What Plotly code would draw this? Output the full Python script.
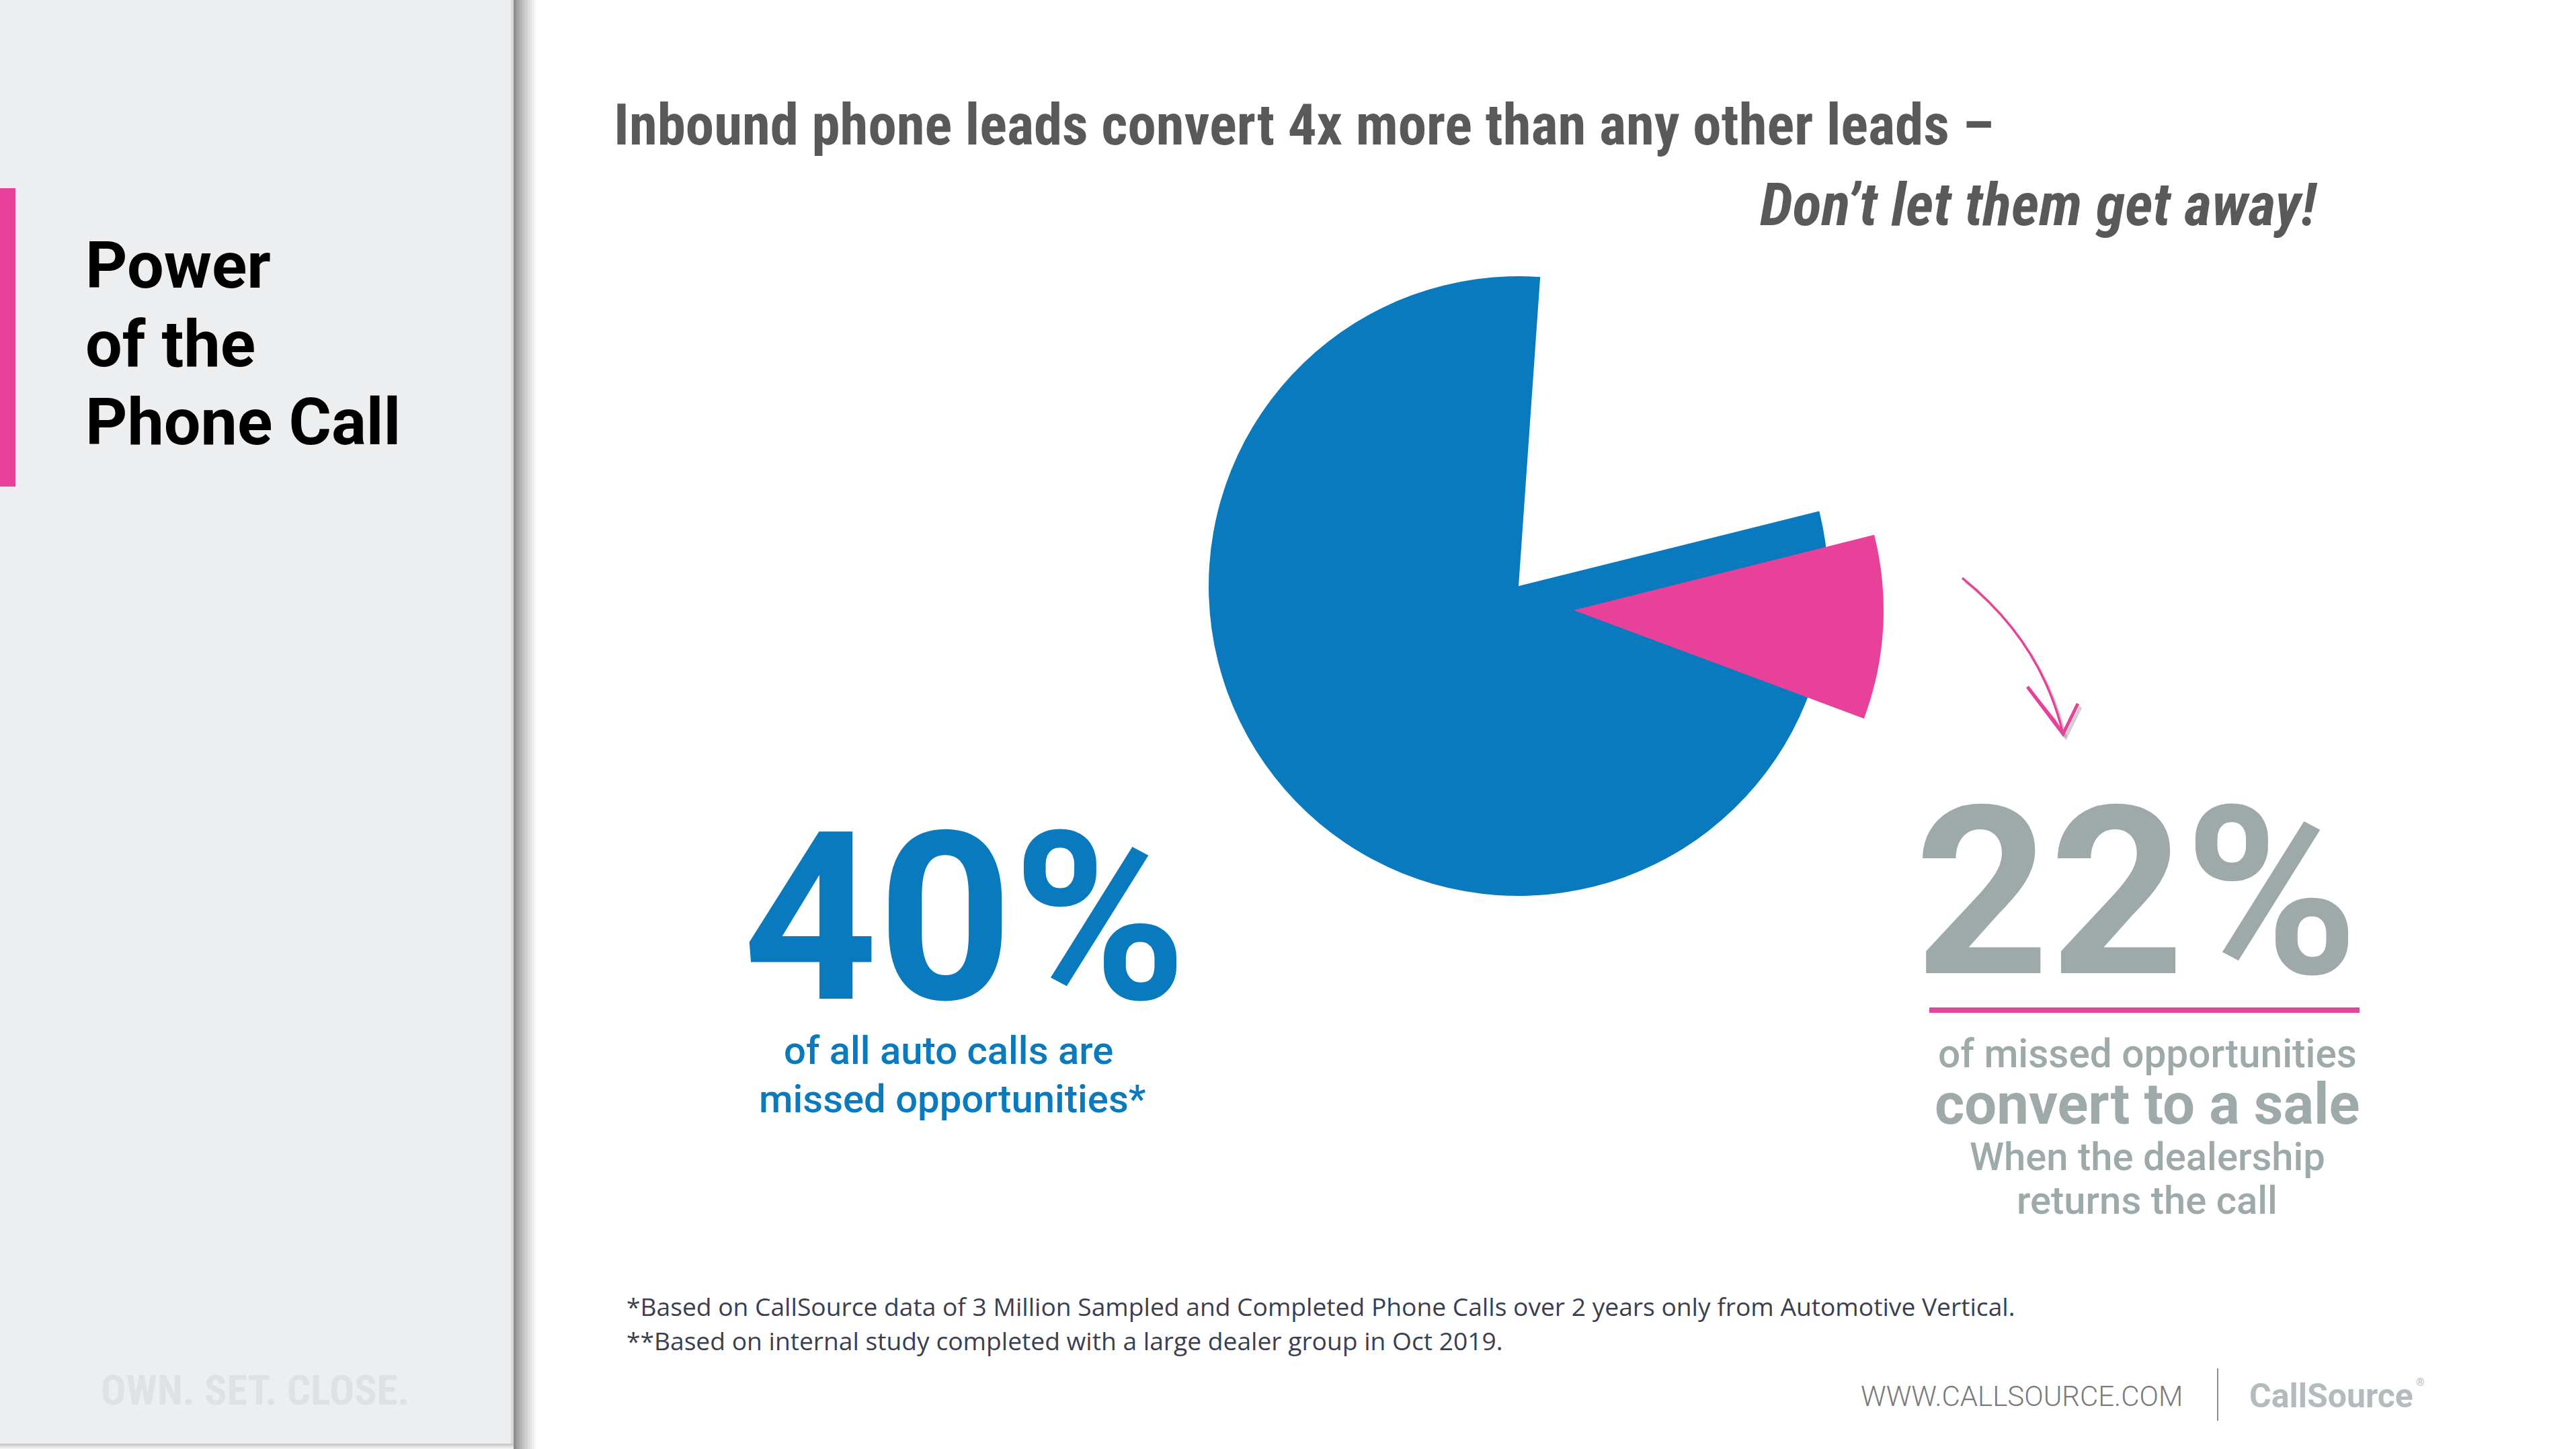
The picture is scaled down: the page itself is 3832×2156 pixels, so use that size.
import plotly.graph_objects as go

W, H = 3832, 2156

# ---- data -------------------------------------------------------------
# main pie: share of calls vs. the open wedge
pie_labels = ["Calls", "Open wedge"]
pie_values = [80, 20]
# highlighted wedge (missed opportunities that convert), pulled out of the pie
wedge_labels = ["Converted", "Rest"]
wedge_values = [9.6, 90.4]

headline = "Inbound phone leads convert 4x more than any other leads \u2013"
subhead = "Don\u2019t let them get away!"
side_title = ["Power", "of the", "Phone Call"]
stat_left = "40%"
stat_left_lines = ["of all auto calls are", "missed opportunities*"]
stat_right = "22%"
stat_right_lines = ["of missed opportunities", "convert to a sale",
                    "When the dealership", "returns the call"]
footnotes = [
    "*Based on CallSource data of 3 Million Sampled and Completed Phone Calls over 2 years only from Automotive Vertical.",
    "**Based on internal study completed with a large dealer group in Oct 2019.",
]
site = "WWW.CALLSOURCE.COM"
brand = "CallSource"
tagline = "OWN. SET. CLOSE."

# ---- styling ------------------------------------------------------------
BLUE = "#0A7ABF"
PINK = "#E8419A"
GREY_STAT = "#9EA9AA"
TITLE_GREY = "#595959"
PANEL = "#EDEEF0"
ROBOTO = "Roboto, Arial, sans-serif"
COND = "Roboto Condensed, Liberation Sans Narrow, DejaVu Sans Condensed, Roboto, sans-serif"
OPEN = "Open Sans, Noto Sans, sans-serif"

R = 461
CX, CY = 2259, 872          # pie centre (px)
WX, WY = 2341, 908          # pulled wedge centre (px)


def dom(cx, cy, r):
    return dict(x=[(cx - r) / W, (cx + r) / W], y=[1 - (cy + r) / H, 1 - (cy - r) / H])


fig = go.Figure()

fig.add_trace(go.Pie(
    labels=pie_labels, values=pie_values, sort=False, direction="clockwise",
    rotation=76, domain=dom(CX, CY, R), textinfo="none", hoverinfo="skip",
    marker=dict(colors=[BLUE, "rgba(0,0,0,0)"], line=dict(width=0)),
    showlegend=False,
))
fig.add_trace(go.Pie(
    labels=wedge_labels, values=wedge_values, sort=False, direction="clockwise",
    rotation=75.9, domain=dom(WX, WY, R), textinfo="none", hoverinfo="skip",
    marker=dict(colors=[PINK, "rgba(0,0,0,0)"], line=dict(width=0)),
    showlegend=False,
))

shapes = []
# left side panel
shapes.append(dict(type="rect", x0=0, x1=760, y0=0, y1=H, fillcolor=PANEL,
                   line=dict(width=0), layer="below"))
# panel edge highlight and drop shadow
shapes.append(dict(type="rect", x0=760, x1=764, y0=0, y1=H, fillcolor="#D8D9DB",
                   line=dict(width=0), layer="below"))
steps = 12
for i in range(steps):
    t = i / (steps - 1)
    v = int(140 + (255 - 140) * (t ** 0.8))
    shapes.append(dict(type="rect", x0=764 + i * 3, x1=764 + (i + 1) * 3, y0=0, y1=H,
                       fillcolor=f"rgb({v},{v},{v})", line=dict(width=0), layer="below"))
for i in range(4):
    v = int(200 + 14 * i)
    shapes.append(dict(type="rect", x0=0, x1=764, y0=H - 8 + 2 * i, y1=H - 6 + 2 * i,
                       fillcolor=f"rgb({v},{v},{v})", line=dict(width=0), layer="below"))
# pink accent bar
shapes.append(dict(type="rect", x0=0, x1=23, y0=280, y1=724, fillcolor=PINK,
                   line=dict(width=0), layer="below"))
# underline beneath the right statistic
shapes.append(dict(type="line", x0=2870, x1=3510, y0=1503, y1=1503,
                   line=dict(color="#E0479A", width=8)))
# divider between site and brand
shapes.append(dict(type="line", x0=3299, x1=3299, y0=2036, y1=2114,
                   line=dict(color="#8E8E8E", width=2)))
# hand-drawn style arrow pointing at the right statistic
for dx, dy, col in [(4, 5, "rgba(120,120,120,0.35)"), (0, 0, PINK)]:
    c = f"M {2919+dx} {860+dy} Q {3036+dx} {954+dy} {3069+dx} {1092+dy}"
    shapes.append(dict(type="path", path=c, line=dict(color=col, width=3.5)))
    shapes.append(dict(type="path",
                       path=f"M {3016+dx} {1022+dy} L {3069+dx} {1092+dy} L {3091+dx} {1047+dy}",
                       line=dict(color=col, width=5)))
shapes.append(dict(type="path", path="M 3016 1022 L 3068 1090 L 3056 1072 Z",
                   fillcolor=PINK, line=dict(color=PINK, width=4)))

annotations = []


def txt(text, x, base, size, color, family=ROBOTO, weight=400, anchor="left",
        italic=False, k=0.34, height=None):
    ann = dict(
        text=text, x=x, y=base - k * size, xref="x", yref="y",
        xanchor=anchor, yanchor="middle", showarrow=False,
        borderpad=0, borderwidth=0,
        font=dict(family=family, size=size, color=color, weight=weight,
                  style="italic" if italic else "normal"),
    )
    if height is not None:
        # tight box around the glyphs so stacked lines do not collide
        ann["height"] = height
        ann["valign"] = "middle"
    annotations.append(ann)


for line, base in zip(side_title, [428, 545, 661]):
    txt(line, 127, base, 97, "#000000", weight=700)
txt(tagline, 150, 2090, 62, "#DFE1E3", family=COND, weight=700)

txt(headline, 913, 215, 85, TITLE_GREY, family=COND, weight=700)
txt(subhead, 3448, 335, 89, TITLE_GREY, family=COND, weight=700, anchor="right",
    italic=True)

txt(stat_left, 1435, 1485, 350, BLUE, weight=700, anchor="center", height=300)
for line, base, cx in zip(stat_left_lines, [1583, 1655], [1411, 1417]):
    txt(line, cx, base, 58, BLUE, weight=500, anchor="center")

txt(stat_right, 3178, 1447, 350, GREY_STAT, weight=700, anchor="center", height=300)
right_specs = [(1588, 58.5, 500, None), (1672, 85, 700, 80),
               (1741, 58, 500, None), (1806, 58, 500, 56)]
for line, (base, size, wt, hgt) in zip(stat_right_lines, right_specs):
    txt(line, 3194, base, size, GREY_STAT, weight=wt, anchor="center", height=hgt)

for line, base in zip(footnotes, [1958, 2009]):
    txt(line, 932, base, 37.2, "#3B4050", family=OPEN, k=0.39)

txt(site, 2768, 2092, 42, "#7A7A7A", weight=300)
txt(brand, 3346, 2094, 50, "#B4BBBD", weight=700)
txt("\u00ae", 3594, 2062, 16, "#B4BBBD", weight=400)

fig.update_layout(
    width=W, height=H,
    margin=dict(l=0, r=0, t=0, b=0, pad=0),
    paper_bgcolor="#FFFFFF", plot_bgcolor="rgba(0,0,0,0)",
    xaxis=dict(range=[0, W], visible=False, fixedrange=True, domain=[0, 1]),
    yaxis=dict(range=[H, 0], visible=False, fixedrange=True, domain=[0, 1]),
    shapes=shapes, annotations=annotations,
    showlegend=False,
)

fig.write_html("out.html", config={"displayModeBar": False})
